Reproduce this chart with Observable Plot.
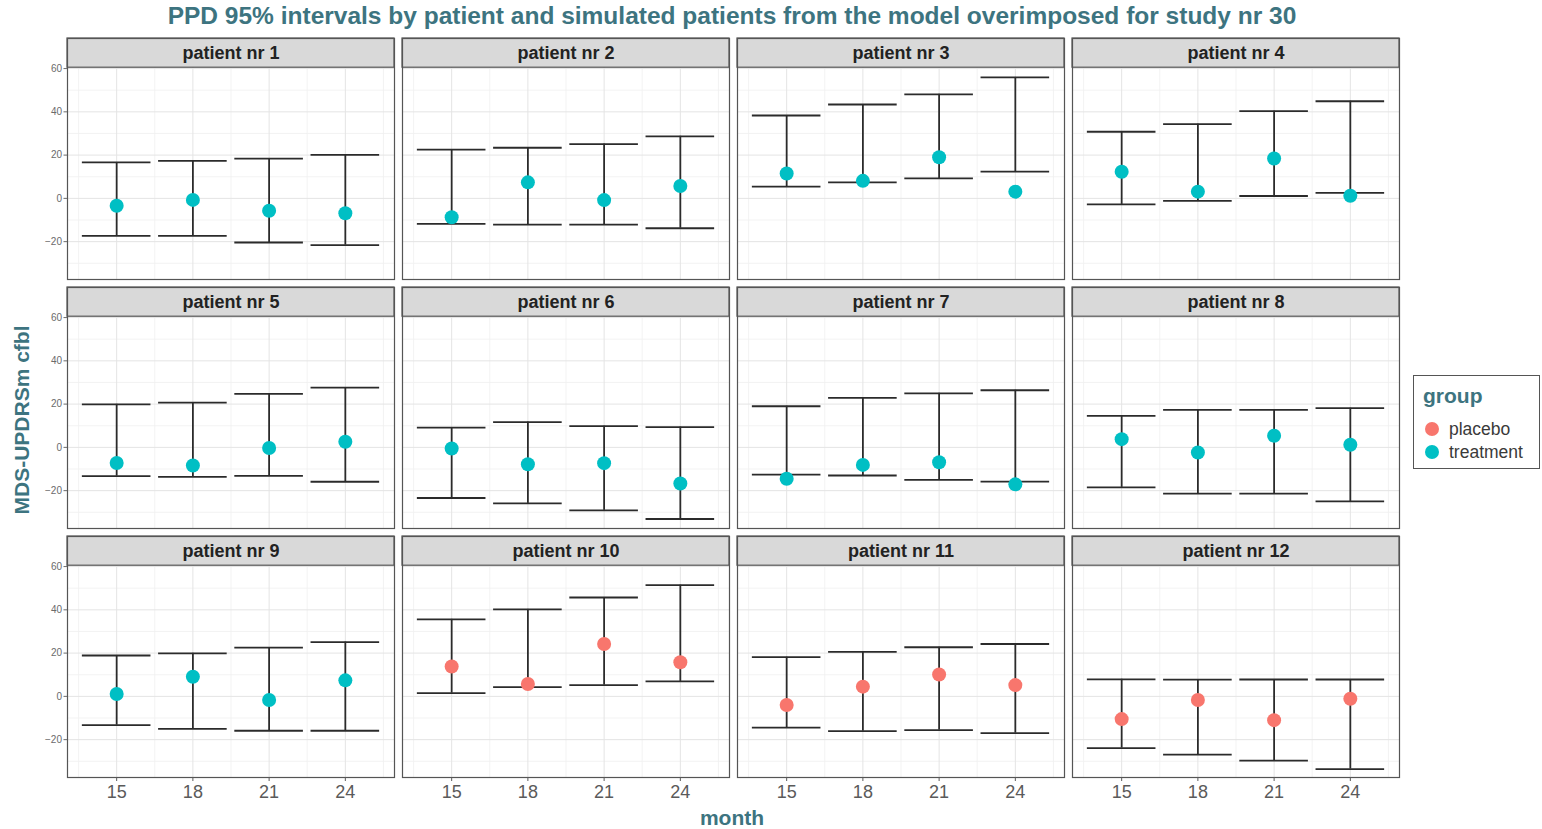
<!DOCTYPE html>
<html>
<head>
<meta charset="utf-8">
<script src="https://cdn.jsdelivr.net/npm/d3@7"></script>
<script src="https://cdn.jsdelivr.net/npm/@observablehq/plot@0.6"></script>
<style>
  html, body { margin: 0; padding: 0; background: #ffffff; }
  #wrap { position: relative; width: 1542px; height: 829px; font-family: "Liberation Sans", Arial, sans-serif; overflow: hidden; }
  #chart { position: absolute; left: 0; top: 0; }
  .ttl { position: absolute; font-weight: bold; color: #3d7480; white-space: nowrap; }
  #title { left: 0; width: 1464px; text-align: center; top: 2px; font-size: 24.5px; line-height: 28px; }
  #xtitle { left: 0; width: 1464px; text-align: center; top: 806px; font-size: 21px; line-height: 24px; }
  #ytitle { left: 22px; top: 420px; font-size: 21px; line-height: 22px; transform: translate(-50%, -50%) rotate(-90deg); }
  #legend { position: absolute; left: 1413px; top: 375px; width: 127px; height: 94px; border: 1px solid #555; background: #fff; box-sizing: border-box; }
  #legend .lt { position: absolute; left: 9px; top: 8px; font-size: 21px; font-weight: bold; color: #3d7480; }
  #legend .row { position: absolute; left: 11px; height: 22px; display: flex; align-items: center; font-size: 17.5px; color: #3a3a3a; }
  #legend .sw { width: 14px; height: 14px; border-radius: 50%; margin-right: 10px; }
</style>
</head>
<body>
<div id="wrap">
  <div id="chart"></div>
  <div id="title" class="ttl"></div>
  <div id="xtitle" class="ttl"></div>
  <div id="ytitle" class="ttl"></div>
  <div id="legend"></div>
</div>
<script>
// ---------------- data ----------------
const titleText = "PPD 95% intervals by patient and simulated patients from the model overimposed for study nr 30";
const xTitle = "month";
const yTitle = "MDS-UPDRSm cfbl";
const legendTitle = "group";

const months = [15, 18, 21, 24];
const patientLabels = ["patient nr 1", "patient nr 2", "patient nr 3", "patient nr 4",
  "patient nr 5", "patient nr 6", "patient nr 7", "patient nr 8",
  "patient nr 9", "patient nr 10", "patient nr 11", "patient nr 12"];
const patientGroup = ["treatment", "treatment", "treatment", "treatment",
  "treatment", "treatment", "treatment", "treatment",
  "treatment", "placebo", "placebo", "placebo"];
const groupNames = ["placebo", "treatment"];
const groupColors = ["#F8766D", "#00BFC4"];

// lower 95% bound per patient, per month (15, 18, 21, 24)
const lower = [
  [-17.3, -17.3, -20.4, -21.6],
  [-11.8, -12.1, -12.1, -13.8],
  [5.4, 7.4, 9.2, 12.4],
  [-2.8, -1.2, 1.1, 2.5],
  [-13.3, -13.6, -13.2, -15.9],
  [-23.4, -25.9, -29.1, -33.1],
  [-12.6, -13.0, -15.0, -15.8],
  [-18.5, -21.4, -21.4, -25.0],
  [-13.3, -15.0, -15.9, -15.9],
  [1.5, 4.3, 5.2, 6.9],
  [-14.4, -16.1, -15.6, -17.0],
  [-23.9, -26.9, -29.7, -33.6]
];
// upper 95% bound
const upper = [
  [16.6, 17.3, 18.4, 20.1],
  [22.5, 23.4, 25.1, 28.7],
  [38.3, 43.4, 48.1, 55.9],
  [30.8, 34.3, 40.3, 44.9],
  [19.9, 20.7, 24.7, 27.6],
  [9.1, 11.7, 9.8, 9.4],
  [19.0, 22.9, 25.0, 26.4],
  [14.6, 17.3, 17.3, 18.1],
  [18.9, 19.9, 22.5, 25.1],
  [35.6, 40.2, 45.7, 51.4],
  [18.1, 20.6, 22.7, 24.2],
  [7.9, 7.7, 7.8, 7.8]
];
// observed patient value
const observed = [
  [-3.4, -0.7, -5.7, -6.9],
  [-8.7, 7.4, -0.8, 5.7],
  [11.5, 8.1, 19.0, 3.1],
  [12.3, 3.1, 18.4, 1.2],
  [-7.2, -8.4, -0.3, 2.6],
  [-0.5, -7.8, -7.3, -16.7],
  [-14.5, -8.1, -6.9, -17.1],
  [3.8, -2.4, 5.4, 1.2],
  [1.1, 9.1, -1.7, 7.4],
  [13.8, 5.7, 24.2, 15.8],
  [-4.0, 4.5, 10.1, 5.2],
  [-10.5, -1.7, -11.0, -1.1]
];

const yTicks = [-20, 0, 20, 40, 60];
const yMinor = [-30, -10, 10, 30, 50];
const xMinor = [13.5, 16.5, 19.5, 22.5, 25.5];

// ---------------- layout constants ----------------
const nCols = 4;
const capWidth = 2.7;            // errorbar width in months (0.9 * 3)
const xDomain = [13.065, 25.935];
const panelBottom = -37.5, panelTop = 60.4, stripTop = 73.9;

// ---------------- table ----------------
const rows = [];
patientLabels.forEach((label, i) => {
  months.forEach((m, j) => {
    rows.push({
      label, col: i % nCols, row: Math.floor(i / nCols),
      month: m, lo: lower[i][j], hi: upper[i][j], obs: observed[i][j],
      group: patientGroup[i]
    });
  });
});
const strips = patientLabels.map((label, i) => ({label, col: i % nCols, row: Math.floor(i / nCols)}));

const FONT = '"Liberation Sans", Arial, sans-serif';

const chart = Plot.plot({
  width: 1542,
  height: 829,
  marginTop: 37,
  marginBottom: 51,
  marginLeft: 65,
  marginRight: 142,
  style: {fontFamily: FONT, background: "#ffffff", overflow: "visible"},
  fx: {domain: [0, 1, 2, 3], paddingInner: 0.024, paddingOuter: 0, axis: null, label: null},
  fy: {domain: [0, 1, 2], paddingInner: 0.034, paddingOuter: 0, axis: null, label: null},
  x: {domain: xDomain, axis: null},
  y: {domain: [panelBottom, stripTop], axis: null},
  color: {domain: groupNames, range: groupColors},
  marks: [
    // grid
    Plot.gridY(yMinor, {stroke: "#f0f0f0", strokeOpacity: 1, strokeWidth: 0.8}),
    Plot.ruleX(xMinor, {y1: panelBottom, y2: panelTop, stroke: "#f0f0f0", strokeWidth: 0.8}),
    Plot.gridY(yTicks, {stroke: "#e4e4e4", strokeOpacity: 1, strokeWidth: 1}),
    Plot.ruleX(months, {y1: panelBottom, y2: panelTop, stroke: "#e4e4e4", strokeWidth: 1}),
    // strips
    Plot.rect(strips, {fx: "col", fy: "row", y1: panelTop, y2: stripTop, fill: "#d9d9d9", stroke: "#555", strokeWidth: 1.2}),
    Plot.text(strips, {fx: "col", fy: "row", y: (panelTop + stripTop) / 2, text: "label",
      fontSize: 18, fontWeight: "bold", fill: "#222", frameAnchor: "middle"}),
    // panel border
    Plot.frame({stroke: "#555", strokeWidth: 1.2}),
    // axes
    Plot.axisY({ticks: yTicks, tickSize: 3.5, tickPadding: 2, fontSize: 10, color: "#6b6b6b", label: null}),
    Plot.axisX({ticks: months, tickSize: 4, tickPadding: 4, fontSize: 18, color: "#5a5a5a", label: null}),
    // error bars
    Plot.ruleX(rows, {fx: "col", fy: "row", x: "month", y1: "lo", y2: "hi", stroke: "#2b2b2b", strokeWidth: 1.8}),
    Plot.ruleY(rows, {fx: "col", fy: "row", y: "hi", x1: d => d.month - capWidth / 2, x2: d => d.month + capWidth / 2, stroke: "#2b2b2b", strokeWidth: 1.8}),
    Plot.ruleY(rows, {fx: "col", fy: "row", y: "lo", x1: d => d.month - capWidth / 2, x2: d => d.month + capWidth / 2, stroke: "#2b2b2b", strokeWidth: 1.8}),
    // observed points
    Plot.dot(rows, {fx: "col", fy: "row", x: "month", y: "obs", fill: "group", r: 7})
  ]
});
document.getElementById("chart").appendChild(chart);

document.getElementById("title").textContent = titleText;
document.getElementById("xtitle").textContent = xTitle;
document.getElementById("ytitle").textContent = yTitle;

const legend = document.getElementById("legend");
const lt = document.createElement("div");
lt.className = "lt"; lt.textContent = legendTitle;
legend.appendChild(lt);
groupNames.forEach((g, i) => {
  const r = document.createElement("div");
  r.className = "row";
  r.style.top = (42 + i * 23) + "px";
  const sw = document.createElement("span");
  sw.className = "sw"; sw.style.background = groupColors[i];
  const tx = document.createElement("span");
  tx.textContent = g;
  r.appendChild(sw); r.appendChild(tx);
  legend.appendChild(r);
});
</script>
</body>
</html>
